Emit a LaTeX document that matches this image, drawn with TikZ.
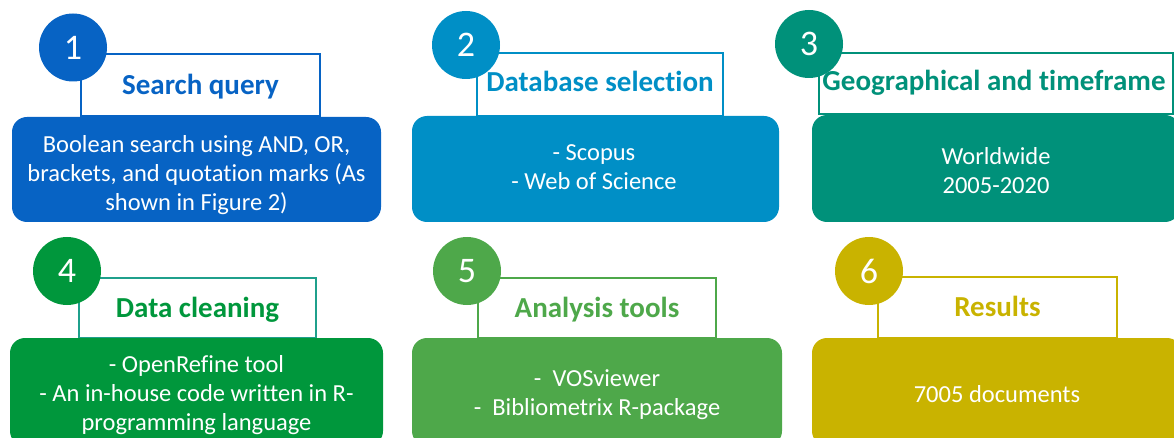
\documentclass[tikz,border=0pt]{standalone}
\usepackage{fontspec}
\setmainfont[Ligatures={NoCommon}]{Carlito}
\definecolor{cA}{HTML}{0763C4}
\definecolor{cB}{HTML}{008FC6}
\definecolor{cC}{HTML}{00917A}
\definecolor{cD}{HTML}{00973C}
\definecolor{cDb}{HTML}{1FA08C}
\definecolor{cE}{HTML}{4EA84A}
\definecolor{cF}{HTML}{C9B300}
\tikzset{
  titlebox/.style={draw=#1, line width=2pt, fill=white, inner sep=0pt, minimum height=61pt},
  titletext/.style={text=#1, anchor=base, inner sep=0pt, font=\fontsize{29}{32}\selectfont\bfseries},
  mainbox/.style={fill=#1, rounded corners=15pt, inner sep=0pt},
  bodytext/.style={text=white, align=center, inner sep=0pt, font=\fontsize{24.5}{29}\selectfont},
  numcircle/.style={circle, fill=#1, minimum size=68pt, inner sep=0pt, text=white,
    font=\fontsize{36}{36}\selectfont}
}
\begin{document}
\begin{tikzpicture}[x=1pt,y=-1pt]
\useasboundingbox (0,0) rectangle (1174,438);
\clip (0,0) rectangle (1174,438);
% Panel 1
\node[titlebox=cA, minimum width=239pt, minimum height=62pt] (t1) at (200.5,85) {};
\node[titletext=cA] (tt1) at (200.5,95) {Search query};
\node[numcircle=cA] (n1) at (73,47.5) {1};
\node[mainbox=cA, minimum width=369pt, minimum height=105pt] (b1) at (196.5,169.5) {};
\node[bodytext] (x1) at (196.5,175.5)
  {Boolean search using AND, OR,\\brackets, and quotation marks (As\\shown in Figure 2)};
% Panel 2
\node[titlebox=cB, minimum width=246pt, minimum height=63pt] (t2) at (600,84.5) {};
\node[titletext=cB] (tt2) at (600,92) {Database selection};
\node[numcircle=cB] (n2) at (466,45) {2};
\node[mainbox=cB, minimum width=367pt, minimum height=106pt] (b2) at (595.5,169) {};
\node[bodytext] (x2) at (594,167.5) {- Scopus\\- Web of Science};
% Panel 3
\node[titlebox=cC, minimum width=354pt] (t3) at (996,83.5) {};
\node[titletext=cC] (tt3) at (994,91) {Geographical and timeframe};
\node[numcircle=cC] (n3) at (809,44) {3};
\node[mainbox=cC, minimum width=368pt, minimum height=107pt] (b3) at (996,168.5) {};
\node[bodytext] (x3) at (996,170.5) {Worldwide\\2005-2020};
% Panel 4
\node[titlebox=cDb, minimum width=237pt, minimum height=60pt] (t4) at (197.5,308) {};
\node[titletext=cD] (tt4) at (197.5,317) {Data cleaning};
\node[numcircle=cD] (n4) at (67,271) {4};
\node[mainbox=cD, minimum width=373pt, minimum height=108pt] (b4) at (196.5,392) {};
\node[bodytext] (x4) at (196.5,395)
  {- OpenRefine tool\\- An in-house code written in R-\\programming language};
% Panel 5
\node[titlebox=cE, minimum width=238pt, minimum height=60pt] (t5) at (597,308) {};
\node[titletext=cE] (tt5) at (597,317) {Analysis tools};
\node[numcircle=cE] (n5) at (467,271) {5};
\node[mainbox=cE, minimum width=370pt, minimum height=108pt] (b5) at (597,392) {};
\node[bodytext] (x5) at (597,394.5) {-\ \ VOSviewer\\-\ \ Bibliometrix R-package};
% Panel 6
\node[titlebox=cF, minimum width=239pt] (t6) at (997.5,307.5) {};
\node[titletext=cF] (tt6) at (997.5,316) {Results};
\node[numcircle=cF] (n6) at (869,271) {6};
\node[mainbox=cF, minimum width=370pt, minimum height=108pt] (b6) at (997,392) {};
\node[bodytext] (x6) at (997,394) {7005 documents};
\end{tikzpicture}
\end{document}
